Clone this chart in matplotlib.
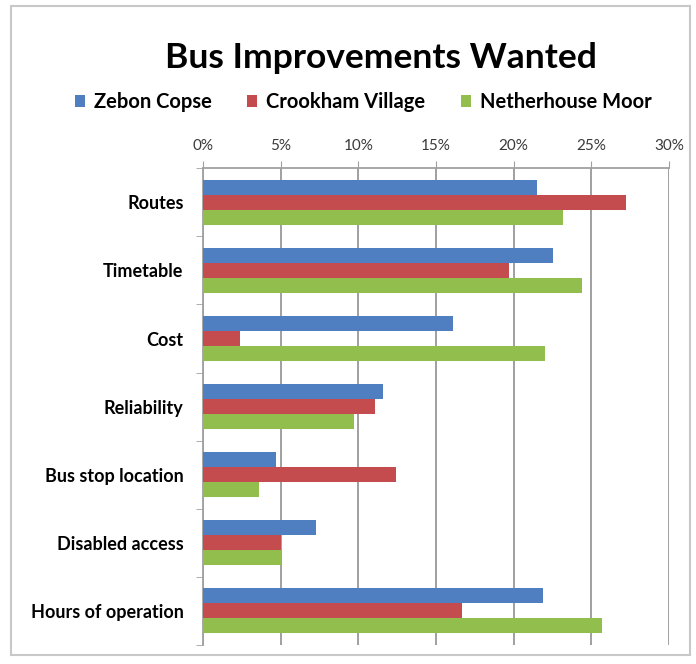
import numpy as np
import matplotlib.pyplot as plt
from matplotlib.patches import Rectangle
from matplotlib.ticker import FuncFormatter, MultipleLocator

# Bus improvements survey: share of responses per area

categories = ["Routes", "Timetable", "Cost", "Reliability",
              "Bus stop location", "Disabled access", "Hours of operation"]
zebon = [21.5, 22.5, 16.1, 11.6, 4.7, 7.3, 21.9]
crookham = [27.2, 19.7, 2.4, 11.1, 12.4, 5.0, 16.7]
netherhouse = [23.2, 24.4, 22.0, 9.7, 3.6, 5.0, 25.7]
series_names = ["Zebon Copse", "Crookham Village", "Netherhouse Moor"]
colors = ["#4F7FC0", "#C44B4E", "#92BE4E"]


def main():
    plt.rcParams['font.family'] = ['Lato', 'DejaVu Sans']
    fig = plt.figure(figsize=(6.96, 6.64), dpi=100)

    # light frame round the chart like an Excel chart area
    fig.patches.append(Rectangle((0.016, 0.014), 0.975, 0.977, transform=fig.transFigure,
                                 fill=False, edgecolor="#c8c8c8", linewidth=1.5))

    ax = fig.add_axes([0.2917, 0.0286, 0.6695, 0.718])
    n = len(categories)
    y = np.arange(n)
    h = 0.22
    series = [zebon, crookham, netherhouse]
    handles = []
    for i, (vals, name, c) in enumerate(zip(series, series_names, colors)):
        b = ax.barh(y + (i - 1) * h, vals, height=h, color=c, label=name, zorder=3)
        handles.append(b)

    ax.set_xlim(0, 30)
    ax.set_ylim(n - 0.5, -0.5)
    ax.xaxis.set_major_locator(MultipleLocator(5))
    ax.xaxis.set_major_formatter(FuncFormatter(lambda v, p: f"{v:.0f}%"))
    ax.xaxis.tick_top()
    ax.tick_params(axis='x', direction='out', length=5, color="#a0a0a0",
                   labelsize=11, labelcolor="#3a3a3a", pad=6)
    ax.grid(axis='x', color="#999999", linewidth=1.3, zorder=0)

    ax.set_yticks(y)
    ax.set_yticklabels(categories, fontsize=13, fontweight='bold')
    ax.set_yticks(np.arange(n + 1) - 0.5, minor=True)
    ax.tick_params(axis='y', which='major', length=0, pad=14)
    ax.tick_params(axis='y', which='minor', length=5, color="#a0a0a0")

    for s in ["right", "bottom"]:
        ax.spines[s].set_visible(False)
    for s in ["top", "left"]:
        ax.spines[s].set_color("#a0a0a0")
        ax.spines[s].set_linewidth(1.3)

    fig.text(0.548, 0.898, "Bus Improvements Wanted", ha='center', va='baseline',
             fontsize=25.5, fontweight='bold')
    fig.legend(handles=handles, loc='center', bbox_to_anchor=(0.522, 0.846), ncol=3,
               frameon=False, handlelength=0.5, handleheight=0.5, handletextpad=0.45,
               columnspacing=1.75, prop={'weight': 'bold', 'size': 14.5})

    fig.savefig("out.png", dpi=100)


if __name__ == '__main__':
    main()
